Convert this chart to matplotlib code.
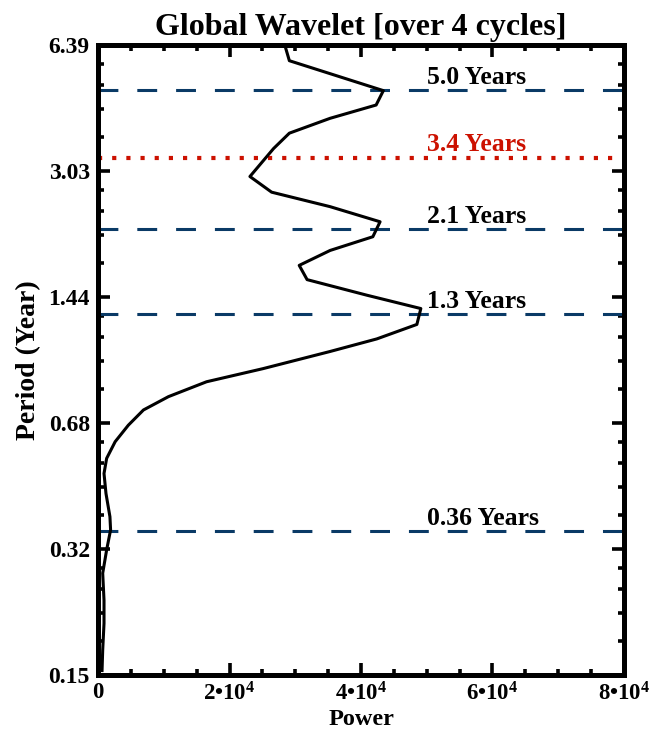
import numpy as np
import matplotlib
matplotlib.use('Agg')
import matplotlib.pyplot as plt
from matplotlib.ticker import NullFormatter

# global wavelet power (in units of 1000) vs period (years)
power_k = [28.4, 29.1, 43.4, 42.3, 35.3, 29.1, 26.7, 23.1, 26.4, 35.3, 42.9, 41.8,
           35.3, 30.6, 31.8, 40.9, 49.1, 48.5, 42.4, 35.3, 25.1, 16.5, 10.7, 6.9,
           4.6, 2.6, 1.3, 0.9, 1.2, 1.8, 1.9, 1.3, 0.7, 0.9, 0.9, 0.7, 0.6]
period = [6.39, 5.82, 4.87, 4.47, 4.13, 3.78, 3.45, 2.92, 2.66, 2.44, 2.23, 2.04,
          1.88, 1.72, 1.58, 1.44, 1.33, 1.21, 1.11, 1.03, 0.93, 0.86, 0.787, 0.727,
          0.664, 0.602, 0.545, 0.498, 0.442, 0.385, 0.356, 0.316, 0.275, 0.234,
          0.204, 0.174, 0.154]

# marked periods
peak_periods = [4.89, 2.13, 1.285, 0.354]
peak_labels = ['5.0 Years', '2.1 Years', '1.3 Years', '0.36 Years']
red_period = 3.27
red_label = '3.4 Years'

ytick_labels = ['0.15', '0.32', '0.68', '1.44', '3.03', '6.39']
xtick_vals = [0, 20000, 40000, 60000, 80000]
xtick_labels = ['0', '2\u202210$^{4}$', '4\u202210$^{4}$', '6\u202210$^{4}$', '8\u202210$^{4}$']

plt.rcParams['font.family'] = 'Liberation Serif'
plt.rcParams['font.weight'] = 'bold'
plt.rcParams['mathtext.fontset'] = 'custom'
plt.rcParams['mathtext.rm'] = 'Liberation Serif:bold'
plt.rcParams['mathtext.default'] = 'rm'

fig = plt.figure(figsize=(6.54, 7.38), dpi=100)
ax = fig.add_axes([0.15, 0.0854, 0.804, 0.8536])

ax.plot(np.array(power_k) * 1000, period, color='black', lw=2.2, zorder=3)

navy = '#0a3a66'
for p, lab in zip(peak_periods, peak_labels):
    ax.axhline(p, color=navy, lw=2.2, linestyle=(0, (6.5, 6.2)), zorder=2)
    ax.annotate(lab, (50000, p), xytext=(0, 4.5), textcoords='offset points',
                fontsize=18.5, fontweight='bold', va='baseline', ha='left')
ax.axhline(red_period, color='#cc1100', lw=3.0, linestyle=(0, (1, 2.4)), zorder=2)
ax.annotate(red_label, (50000, red_period), xytext=(0, 4.5), textcoords='offset points',
            fontsize=18.5, fontweight='bold', va='baseline', ha='left', color='#cc1100')

ax.set_yscale('log')
ax.set_xlim(0, 80000)
ax.set_ylim(0.15, 6.39)

yt = np.geomspace(0.15, 6.39, 6)
ax.set_yticks(yt, ytick_labels)
minors = []
for a, b in zip(yt[:-1], yt[1:]):
    minors += list(np.linspace(a, b, 6)[1:-1])
ax.set_yticks(minors, minor=True)
ax.yaxis.set_minor_formatter(NullFormatter())

ax.set_xticks(xtick_vals, xtick_labels)
ax.set_xticks(np.arange(0, 80001, 5000), minor=True)

ax.tick_params(which='both', direction='in', top=True, right=True, width=2.6,
               labelsize=17, pad=6)
ax.tick_params(axis='x', labelsize=16.5, pad=5)
ax.tick_params(which='major', length=8.5)
ax.tick_params(which='minor', length=4.5)
for s in ax.spines.values():
    s.set_linewidth(3.6)

ax.set_title('Global Wavelet [over 4 cycles]', fontsize=23, fontweight='bold', pad=7)
ax.set_xlabel('Power', fontsize=17.5, fontweight='bold', labelpad=3)
ax.set_ylabel('Period (Year)', fontsize=20, fontweight='bold', labelpad=5)

fig.savefig('out.png', dpi=100)
